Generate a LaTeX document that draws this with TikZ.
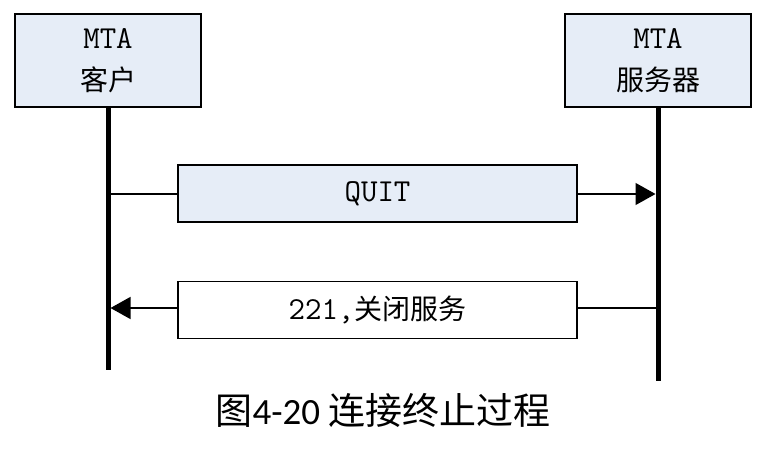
\documentclass[tikz,border=0pt]{standalone}
\usepackage{fontspec}
\newfontfamily\cjk{Noto Sans CJK SC}
\newfontfamily\capfont{Carlito}
\usetikzlibrary{arrows.meta}
\definecolor{boxblue}{RGB}{230,237,247}
\newcommand{\lat}{\ttfamily\fontsize{32}{40}\selectfont}
\begin{document}
\begin{tikzpicture}[x=1pt, y=1pt,
    agent/.style={rectangle, draw=black, fill=boxblue, line width=1.3pt, minimum width=186pt, minimum height=93pt, inner sep=0pt, align=center, font=\fontsize{28}{42}\selectfont},
    msg/.style={rectangle, draw=black, line width=1.3pt, minimum width=399pt, minimum height=57pt, inner sep=0pt, font=\fontsize{28}{34}\selectfont},
    life/.style={line width=5pt},
    call/.style={line width=1.3pt, -{Triangle[length=20pt, width=22pt]}, shorten >=2.5pt},
]
\useasboundingbox (0,0) rectangle (768,-460);
\node[agent] (client) at (108,-60.5) {\lat MTA\\\cjk 客户};
\node[agent] (server) at (658,-60.5) {\lat MTA\\\cjk 服务器};
\coordinate (clientend) at (108,-370);
\coordinate (serverend) at (658,-381);
\draw[life] (client.south) -- (clientend);
\draw[life] (server.south) -- (serverend);
\node[msg, fill=boxblue] (quit) at (377.5,-193.5) {\lat QUIT};
\node[msg, fill=white] (close) at (377.5,-310) {\lat 221,\cjk\fontsize{28}{34}\selectfont 关闭服务};
\coordinate (c1) at (108,-194);
\coordinate (s1) at (658,-194);
\coordinate (c2) at (108,-308);
\coordinate (s2) at (658,-308);
\draw[line width=1.3pt] (c1) -- (quit.west |- c1);
\draw[call] (quit.east |- s1) -- (s1);
\draw[line width=1.3pt] (s2) -- (close.east |- s2);
\draw[call] (close.west |- c2) -- (c2);
\node (caption) at (383,-410) [font=\fontsize{37}{44}\selectfont] {\cjk 图\capfont 4-20 \cjk 连接终止过程};
\end{tikzpicture}
\end{document}
